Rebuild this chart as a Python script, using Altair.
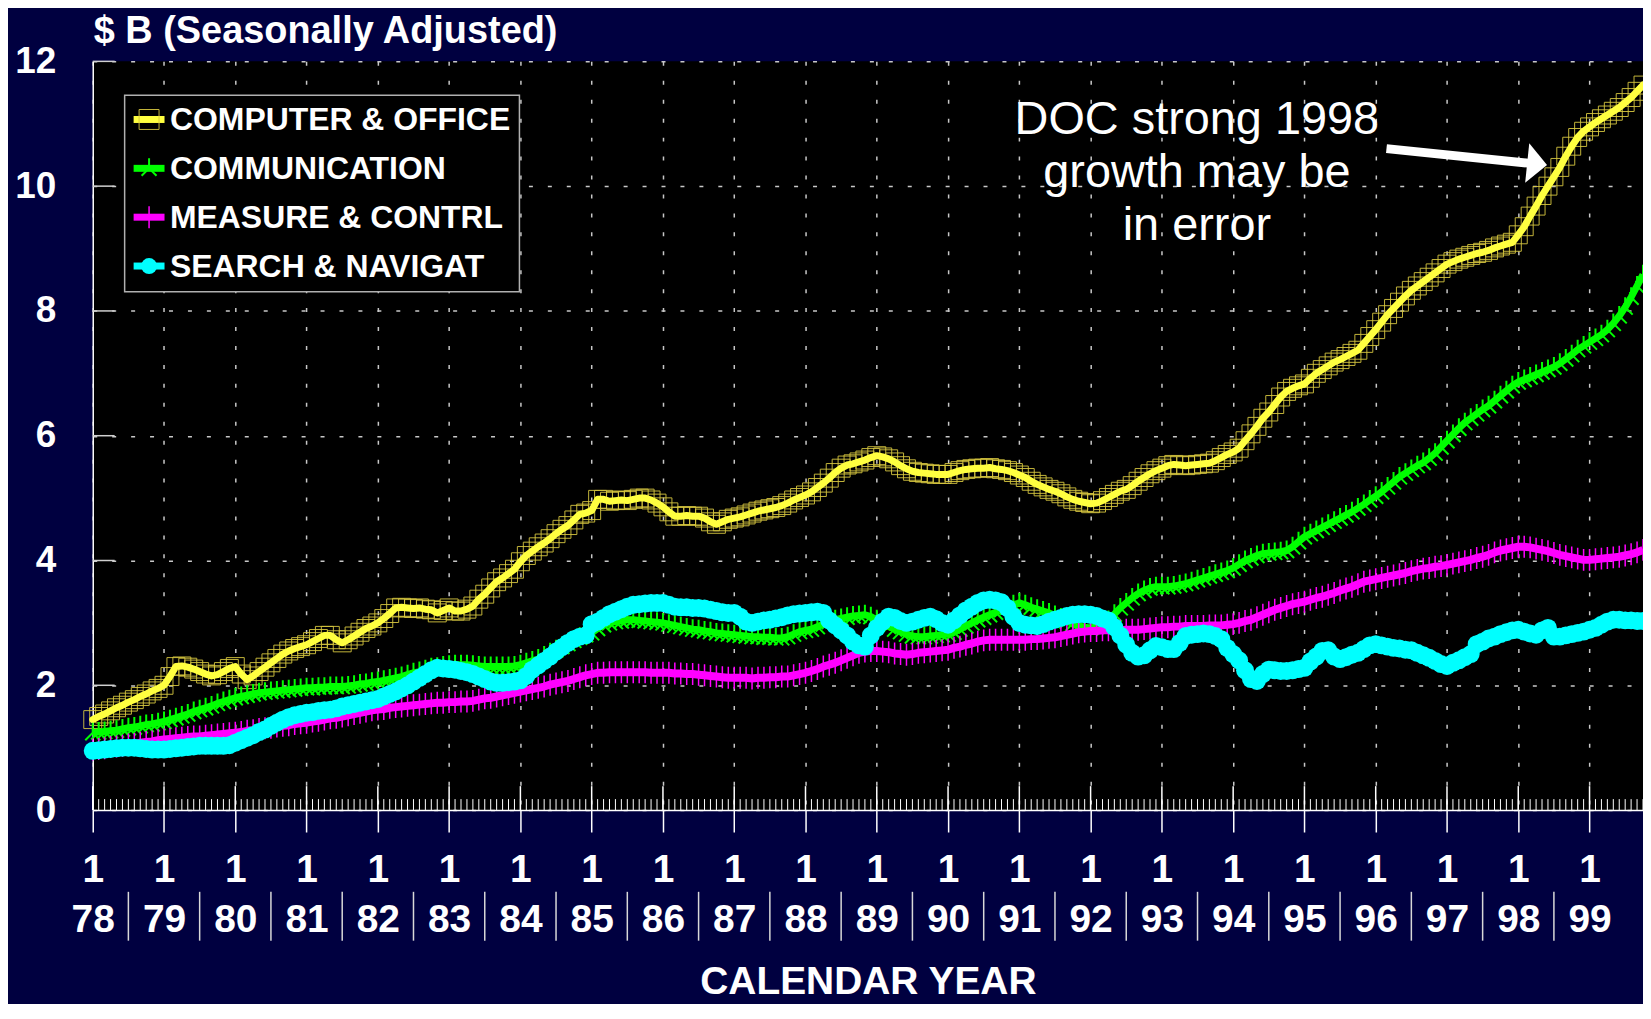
import altair as alt
import pandas as pd

# ---------------- data ----------------
start_year = 1978
year_ticks = list(range(1978, 2000))
year_labels = ["78", "79", "80", "81", "82", "83", "84", "85", "86", "87", "88",
               "89", "90", "91", "92", "93", "94", "95", "96", "97", "98", "99"]
month_label = "1"
y_ticks = [0, 2, 4, 6, 8, 10, 12]

# monthly values, Jan 1978 .. Oct 1999 ($ B, seasonally adjusted)
computer_office = [
    1.45, 1.50, 1.54, 1.59, 1.64, 1.68, 1.73, 1.77, 1.82, 1.86, 1.91, 1.95,
    2.00, 2.14, 2.30, 2.31, 2.29, 2.26, 2.22, 2.18, 2.15, 2.17, 2.22, 2.27,
    2.30, 2.18, 2.09, 2.15, 2.22, 2.29, 2.36, 2.43, 2.50, 2.55, 2.59, 2.62,
    2.65, 2.70, 2.75, 2.80, 2.80, 2.73, 2.68, 2.73, 2.79, 2.85, 2.91, 2.95,
    3.00, 3.07, 3.15, 3.24, 3.25, 3.24, 3.23, 3.24, 3.22, 3.21, 3.16, 3.20,
    3.24, 3.19, 3.19, 3.22, 3.27, 3.38, 3.46, 3.56, 3.66, 3.72, 3.79, 3.86,
    3.98, 4.08, 4.15, 4.22, 4.28, 4.35, 4.43, 4.50, 4.56, 4.65, 4.74, 4.76,
    4.80, 4.98, 4.98, 4.95, 4.96, 4.97, 4.96, 4.98, 5.00, 5.00, 4.97, 4.92,
    4.86, 4.78, 4.71, 4.71, 4.72, 4.71, 4.71, 4.68, 4.62, 4.58, 4.62, 4.66,
    4.68, 4.70, 4.73, 4.76, 4.79, 4.81, 4.83, 4.85, 4.88, 4.92, 4.97, 5.01,
    5.05, 5.10, 5.17, 5.24, 5.32, 5.41, 5.48, 5.53, 5.55, 5.58, 5.61, 5.65,
    5.68, 5.66, 5.63, 5.58, 5.52, 5.47, 5.43, 5.41, 5.40, 5.39, 5.38, 5.38,
    5.38, 5.41, 5.44, 5.46, 5.47, 5.48, 5.48, 5.49, 5.47, 5.46, 5.44, 5.41,
    5.37, 5.33, 5.27, 5.22, 5.18, 5.14, 5.11, 5.07, 5.02, 4.98, 4.95, 4.93,
    4.91, 4.92, 4.96, 5.01, 5.06, 5.11, 5.14, 5.20, 5.27, 5.33, 5.39, 5.44,
    5.48, 5.52, 5.54, 5.53, 5.52, 5.53, 5.54, 5.55, 5.56, 5.60, 5.65, 5.70,
    5.74, 5.80, 5.92, 6.03, 6.15, 6.28, 6.38, 6.50, 6.62, 6.71, 6.76, 6.80,
    6.83, 6.92, 7.00, 7.06, 7.12, 7.18, 7.22, 7.27, 7.32, 7.37, 7.48, 7.59,
    7.70, 7.82, 7.94, 8.04, 8.14, 8.24, 8.33, 8.40, 8.47, 8.54, 8.61, 8.68,
    8.75, 8.79, 8.83, 8.86, 8.89, 8.92, 8.94, 8.97, 9.01, 9.04, 9.07, 9.10,
    9.22, 9.35, 9.52, 9.68, 9.85, 10.00, 10.15, 10.30, 10.48, 10.64, 10.78, 10.88,
    10.95, 11.02, 11.08, 11.14, 11.20, 11.26, 11.34, 11.42, 11.52, 11.62,
]
communication = [
    1.24, 1.25, 1.26, 1.27, 1.28, 1.30, 1.32, 1.33, 1.35, 1.37, 1.38, 1.40,
    1.42, 1.45, 1.48, 1.51, 1.54, 1.58, 1.61, 1.64, 1.67, 1.71, 1.74, 1.77,
    1.80, 1.82, 1.84, 1.86, 1.88, 1.89, 1.90, 1.91, 1.92, 1.93, 1.94, 1.95,
    1.96, 1.96, 1.97, 1.97, 1.98, 1.98, 1.98, 1.99, 2.00, 2.02, 2.03, 2.05,
    2.06, 2.08, 2.10, 2.12, 2.14, 2.17, 2.20, 2.22, 2.25, 2.28, 2.29, 2.31,
    2.32, 2.33, 2.33, 2.33, 2.32, 2.31, 2.30, 2.30, 2.30, 2.30, 2.30, 2.31,
    2.33, 2.36, 2.39, 2.42, 2.47, 2.52, 2.57, 2.62, 2.67, 2.72, 2.77, 2.81,
    2.84, 2.91, 2.97, 3.00, 3.02, 3.03, 3.05, 3.05, 3.04, 3.03, 3.02, 3.01,
    3.00, 2.98, 2.96, 2.94, 2.92, 2.90, 2.89, 2.87, 2.86, 2.84, 2.83, 2.82,
    2.81, 2.80, 2.79, 2.78, 2.78, 2.77, 2.77, 2.76, 2.76, 2.78, 2.82, 2.86,
    2.88, 2.90, 2.94, 2.98, 3.02, 3.05, 3.07, 3.09, 3.11, 3.12, 3.13, 3.10,
    3.05, 3.00, 2.94, 2.90, 2.86, 2.82, 2.79, 2.78, 2.78, 2.79, 2.80, 2.81,
    2.82, 2.85, 2.90, 2.95, 3.00, 3.05, 3.09, 3.13, 3.17, 3.21, 3.25, 3.29,
    3.32, 3.29, 3.25, 3.22, 3.19, 3.16, 3.12, 3.08, 3.03, 2.99, 2.95, 2.93,
    2.92, 2.94, 2.98, 3.04, 3.14, 3.24, 3.32, 3.40, 3.47, 3.52, 3.56, 3.58,
    3.58, 3.58, 3.59, 3.61, 3.63, 3.66, 3.69, 3.72, 3.75, 3.78, 3.81, 3.84,
    3.88, 3.94, 4.00, 4.04, 4.08, 4.11, 4.12, 4.13, 4.14, 4.16, 4.22, 4.30,
    4.38, 4.43, 4.48, 4.53, 4.58, 4.63, 4.68, 4.73, 4.78, 4.84, 4.90, 4.97,
    5.03, 5.10, 5.18, 5.26, 5.34, 5.40, 5.46, 5.52, 5.57, 5.64, 5.72, 5.82,
    5.92, 6.02, 6.12, 6.21, 6.28, 6.35, 6.42, 6.48, 6.56, 6.64, 6.72, 6.80,
    6.86, 6.90, 6.94, 6.98, 7.02, 7.06, 7.10, 7.16, 7.23, 7.30, 7.38, 7.44,
    7.50, 7.56, 7.62, 7.70, 7.80, 7.92, 8.06, 8.22, 8.40, 8.58,
]
measure_contrl = [
    0.97, 0.98, 0.99, 1.01, 1.02, 1.03, 1.05, 1.06, 1.08, 1.09, 1.10, 1.12,
    1.13, 1.14, 1.15, 1.16, 1.17, 1.18, 1.18, 1.19, 1.20, 1.21, 1.22, 1.23,
    1.24, 1.25, 1.27, 1.28, 1.30, 1.31, 1.32, 1.34, 1.35, 1.36, 1.38, 1.39,
    1.40, 1.42, 1.43, 1.45, 1.47, 1.48, 1.50, 1.52, 1.54, 1.56, 1.58, 1.60,
    1.61, 1.62, 1.64, 1.65, 1.66, 1.67, 1.68, 1.69, 1.70, 1.71, 1.72, 1.72,
    1.73, 1.73, 1.74, 1.74, 1.75, 1.77, 1.79, 1.80, 1.82, 1.84, 1.86, 1.88,
    1.90, 1.92, 1.94, 1.96, 1.98, 2.01, 2.03, 2.05, 2.07, 2.10, 2.13, 2.16,
    2.18, 2.20, 2.20, 2.21, 2.21, 2.21, 2.21, 2.21, 2.21, 2.21, 2.20, 2.20,
    2.20, 2.20, 2.19, 2.19, 2.18, 2.18, 2.17, 2.16, 2.15, 2.14, 2.13, 2.12,
    2.12, 2.12, 2.12, 2.11, 2.12, 2.12, 2.13, 2.13, 2.14, 2.14, 2.16, 2.18,
    2.20, 2.23, 2.26, 2.30, 2.33, 2.36, 2.40, 2.44, 2.48, 2.52, 2.54, 2.55,
    2.55, 2.54, 2.53, 2.51, 2.50, 2.49, 2.50, 2.52, 2.53, 2.54, 2.55, 2.56,
    2.57, 2.60, 2.62, 2.65, 2.67, 2.70, 2.72, 2.73, 2.73, 2.73, 2.73, 2.73,
    2.73, 2.73, 2.74, 2.74, 2.75, 2.76, 2.77, 2.79, 2.81, 2.83, 2.85, 2.86,
    2.87, 2.87, 2.88, 2.88, 2.88, 2.88, 2.89, 2.89, 2.89, 2.90, 2.91, 2.92,
    2.93, 2.93, 2.94, 2.94, 2.95, 2.95, 2.95, 2.95, 2.96, 2.96, 2.96, 2.97,
    2.98, 3.00, 3.03, 3.05, 3.09, 3.13, 3.17, 3.21, 3.24, 3.27, 3.30, 3.32,
    3.34, 3.37, 3.40, 3.42, 3.45, 3.48, 3.52, 3.55, 3.58, 3.62, 3.66, 3.68,
    3.70, 3.72, 3.74, 3.76, 3.78, 3.80, 3.83, 3.85, 3.87, 3.88, 3.90, 3.91,
    3.93, 3.95, 3.97, 3.99, 4.01, 4.04, 4.06, 4.09, 4.13, 4.16, 4.18, 4.20,
    4.22, 4.22, 4.21, 4.19, 4.17, 4.15, 4.12, 4.09, 4.07, 4.05, 4.03, 4.01,
    4.01, 4.02, 4.03, 4.04, 4.05, 4.06, 4.08, 4.10, 4.13, 4.17,
]
search_navigat = [
    0.95, 0.96, 0.97, 0.98, 0.99, 1.00, 1.00, 1.00, 0.99, 0.98, 0.97, 0.97,
    0.97, 0.98, 0.99, 1.00, 1.01, 1.02, 1.03, 1.03, 1.03, 1.03, 1.03, 1.04,
    1.08, 1.12, 1.16, 1.20, 1.25, 1.29, 1.35, 1.40, 1.45, 1.49, 1.52, 1.54,
    1.56, 1.57, 1.59, 1.60, 1.61, 1.63, 1.66, 1.68, 1.70, 1.72, 1.74, 1.76,
    1.78, 1.82, 1.86, 1.90, 1.95, 2.00, 2.06, 2.12, 2.18, 2.24, 2.28, 2.27,
    2.26, 2.25, 2.23, 2.21, 2.18, 2.14, 2.10, 2.06, 2.04, 2.04, 2.05, 2.06,
    2.08, 2.15, 2.25, 2.32, 2.39, 2.46, 2.54, 2.61, 2.68, 2.74, 2.78, 2.80,
    2.98, 3.02, 3.08, 3.14, 3.18, 3.22, 3.26, 3.29, 3.30, 3.31, 3.32, 3.32,
    3.32, 3.29, 3.26, 3.25, 3.25, 3.24, 3.24, 3.23, 3.21, 3.19, 3.17, 3.16,
    3.16, 3.10, 3.02, 3.00, 3.02, 3.04, 3.05, 3.07, 3.09, 3.12, 3.14, 3.15,
    3.16, 3.17, 3.18, 3.16, 3.04, 2.96, 2.88, 2.80, 2.70, 2.64, 2.62, 2.80,
    2.92, 3.02, 3.10, 3.08, 3.03, 3.00, 3.02, 3.05, 3.08, 3.10, 3.06, 3.00,
    2.97, 3.04, 3.12, 3.20, 3.26, 3.32, 3.36, 3.37, 3.36, 3.33, 3.24, 3.10,
    3.00, 2.97, 2.96, 2.95, 2.98, 3.02, 3.05, 3.08, 3.11, 3.13, 3.14, 3.14,
    3.13, 3.11, 3.07, 3.04, 2.93, 2.80, 2.65, 2.52, 2.46, 2.48, 2.56, 2.63,
    2.61, 2.58, 2.58, 2.68, 2.79, 2.81, 2.82, 2.83, 2.82, 2.79, 2.74, 2.60,
    2.50, 2.40, 2.24, 2.10, 2.07, 2.18, 2.25, 2.24, 2.23, 2.23, 2.24, 2.26,
    2.28, 2.38, 2.46, 2.55, 2.56, 2.46, 2.42, 2.45, 2.49, 2.52, 2.58, 2.64,
    2.66, 2.64, 2.62, 2.60, 2.59, 2.57, 2.56, 2.52, 2.48, 2.44, 2.39, 2.34,
    2.31, 2.36, 2.40, 2.45, 2.50, 2.66, 2.70, 2.75, 2.78, 2.82, 2.85, 2.88,
    2.89, 2.86, 2.83, 2.81, 2.88, 2.92, 2.78, 2.78, 2.80, 2.82, 2.84, 2.86,
    2.89, 2.92, 2.97, 3.02, 3.05, 3.05, 3.04, 3.04, 3.03, 3.03,
]

series_names = ["COMPUTER & OFFICE", "COMMUNICATION", "MEASURE & CONTRL", "SEARCH & NAVIGAT"]
series_colors = ["#FFFF40", "#00FF00", "#FF00FF", "#00FFFF"]
series_values = [computer_office, communication, measure_contrl, search_navigat]

title_text = "$ B (Seasonally Adjusted)"
x_title = "CALENDAR YEAR"
note_lines = ["DOC strong 1998", "growth may be", "in error"]

# ---------------- build ----------------
n = len(computer_office)
t = [start_year + i / 12 for i in range(n)]
rows = []
for name, vals in zip(series_names, series_values):
    for ti, v in zip(t, vals):
        rows.append({"series": name, "t": ti, "v": v})
df = pd.DataFrame(rows)

FONT = "Liberation Sans"
W, H = 1555, 751
NAVY = "#000040"
GRID = "#c8c8c8"

xs = alt.Scale(domain=[1978, 1999.75], nice=False, zero=False)
ys = alt.Scale(domain=[0, 12], nice=False)

labels_js = "[" + ",".join("'" + s + "'" for s in year_labels) + "]"
label_expr = "['" + month_label + "', " + labels_js + "[datum.value - " + str(start_year) + "]]"

xaxis = alt.Axis(
    values=year_ticks, labelExpr=label_expr, labelFont=FONT, labelFontSize=39,
    labelFontWeight="bold", labelColor="white", labelBaseline="alphabetic",
    labelPadding=50, labelLineHeight=50, labelAlign="center", labelOverlap=False,
    labelFlush=False, domainColor="white", domainWidth=1.5, tickColor="white",
    tickSize=22, tickWidth=1.5, grid=True, gridColor=GRID, gridDash=[4, 15],
    gridWidth=1.5, title=x_title, titleFont=FONT, titleFontSize=39,
    titleFontWeight="bold", titleColor="white", titleY=184,
    titleBaseline="alphabetic",
)
yaxis = alt.Axis(
    values=y_ticks, format="d", labelFont=FONT, labelFontSize=37, labelFontWeight="bold",
    labelColor="white", labelPadding=37, ticks=False, domainColor="white",
    domainWidth=1.5, grid=True, gridColor=GRID, gridDash=[4, 15], gridWidth=1.5,
    title=None,
)

base = alt.Chart(df)


def sel(i):
    return base.transform_filter(alt.datum.series == series_names[i])


enc = dict(x=alt.X("t:Q", scale=xs), y=alt.Y("v:Q", scale=ys))

STAR = "M0,0V-1M0,0L-0.75,0.75M0,0L0.75,0.75"
PLUS = "M0,-1V1M-0.35,0H0.35"

layers = [
    sel(0).mark_point(shape="square", size=324, filled=False, color="#D8C840",
                      strokeWidth=1, opacity=0.9)
    .encode(x=alt.X("t:Q", scale=xs, axis=xaxis), y=alt.Y("v:Q", scale=ys, axis=yaxis)),
    sel(0).mark_line(color=series_colors[0], strokeWidth=7, strokeJoin="round", strokeCap="round")
    .encode(**enc),
    sel(1).mark_point(shape=STAR, size=400, filled=False, color=series_colors[1],
                      strokeWidth=2, opacity=1).encode(**enc),
    sel(1).mark_line(color=series_colors[1], strokeWidth=7, strokeJoin="round").encode(**enc),
    sel(2).mark_point(shape=PLUS, size=484, filled=False, color=series_colors[2],
                      strokeWidth=1.5, opacity=1).encode(**enc),
    sel(2).mark_line(color=series_colors[2], strokeWidth=8, strokeJoin="round").encode(**enc),
    sel(3).mark_line(color=series_colors[3], strokeWidth=13, strokeJoin="round", strokeCap="round").encode(**enc),
    sel(3).mark_circle(size=324, color=series_colors[3], opacity=1).encode(**enc),
]

# monthly minor ticks and yearly major ticks inside the plot
layers.append(
    alt.Chart(pd.DataFrame({"t": t})).mark_rule(color="white", strokeWidth=1)
    .encode(x=alt.X("t:Q", scale=xs), y=alt.value(H - 11), y2=alt.value(H))
)
layers.append(
    alt.Chart(pd.DataFrame({"t": year_ticks})).mark_rule(color="white", strokeWidth=1.5)
    .encode(x=alt.X("t:Q", scale=xs), y=alt.value(H - 24), y2=alt.value(H))
)
layers.append(
    alt.Chart(pd.DataFrame({"v": y_ticks[1:]})).mark_rule(color="#d0d0d0", strokeWidth=1.5)
    .encode(y=alt.Y("v:Q", scale=ys), x=alt.value(0), x2=alt.value(22))
)
# separators between year labels
layers.append(
    alt.Chart(pd.DataFrame({"t": [y + 0.5 for y in year_ticks[:-1]]}))
    .mark_rule(color="#d8d8d8", strokeWidth=1.5)
    .encode(x=alt.X("t:Q", scale=xs), y=alt.value(833), y2=alt.value(882))
)

dummy = alt.Chart(pd.DataFrame({"k": [0]}))

# legend
layers.append(
    dummy.mark_rect(fill="black", stroke="#b0b0b0", strokeWidth=1.5)
    .encode(x=alt.value(32), x2=alt.value(428), y=alt.value(34), y2=alt.value(231))
)
row_y = [58.3, 107.3, 156.3, 205.3]
legend_markers = [
    dict(shape="square", size=400, filled=False, color="#D8C840", strokeWidth=1, opacity=0.9),
    dict(shape=STAR, size=400, filled=False, color=series_colors[1], strokeWidth=2, opacity=1),
    dict(shape=PLUS, size=484, filled=False, color=series_colors[2], strokeWidth=1.5, opacity=1),
    dict(shape="circle", size=256, filled=True, color=series_colors[3], opacity=1),
]
for i, name in enumerate(series_names):
    cy = row_y[i]
    layers.append(
        dummy.mark_rule(color=series_colors[i], strokeWidth=7)
        .encode(x=alt.value(41), x2=alt.value(72), y=alt.value(cy))
    )
    layers.append(
        dummy.mark_point(**legend_markers[i]).encode(x=alt.value(56.5), y=alt.value(cy))
    )
    layers.append(
        dummy.mark_text(text=name, font=FONT, fontSize=32, fontWeight="bold", color="white",
                        align="left", baseline="alphabetic")
        .encode(x=alt.value(77.5), y=alt.value(cy + 11))
    )

# annotation and arrow
layers.append(
    dummy.mark_text(text=note_lines, font=FONT, fontSize=47, color="white", align="center",
                    baseline="alphabetic", lineHeight=53)
    .encode(x=alt.value(1107.5), y=alt.value(72.7))
)
layers.append(
    dummy.mark_rule(color="white", strokeWidth=9)
    .encode(x=alt.value(1297.7), y=alt.value(87.5), x2=alt.value(1440), y2=alt.value(102.1))
)
layers.append(
    dummy.mark_point(shape="M0.5,0L-0.5,-1L-0.5,1Z", size=1600, filled=True, color="white",
                     opacity=1, angle=5.85)
    .encode(x=alt.value(1448.8), y=alt.value(103))
)
# title
layers.append(
    dummy.mark_text(text=title_text, font=FONT, fontSize=38, fontWeight="bold", color="white",
                    align="left", baseline="alphabetic")
    .encode(x=alt.value(1), y=alt.value(-18))
)

chart = (
    alt.layer(*layers)
    .properties(
        width=W, height=H, background=NAVY,
        padding={"left": 85, "top": 52, "right": 0, "bottom": 193},
        autosize=alt.AutoSizeParams(type="none"),
    )
    .configure_view(fill="black", strokeWidth=0)
)

chart.save("out.html", embed_options={"renderer": "svg", "actions": False})
